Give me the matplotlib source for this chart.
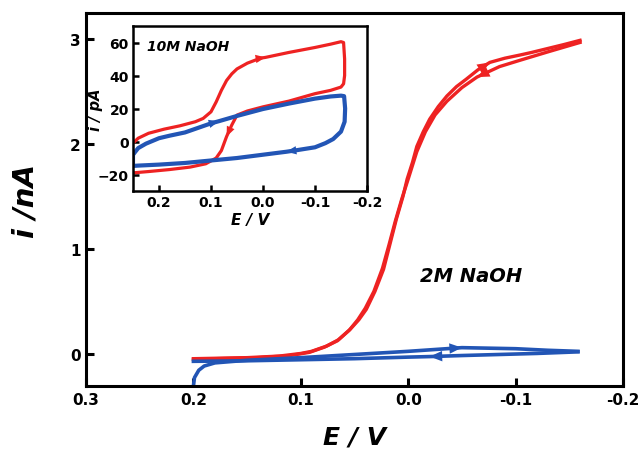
import matplotlib
matplotlib.use('Agg')
import matplotlib.pyplot as plt

plt.rcParams['font.family'] = ['DejaVu Sans']
plt.rcParams['font.weight'] = 'bold'

RED = '#ee2222'
BLUE = '#2255b5'

# main plot, 2M NaOH (E in V, i in nA)
red_fwd_E = [0.2, 0.15, 0.12, 0.1, 0.09, 0.076, 0.065, 0.054, 0.046, 0.039, 0.031, 0.023,
             0.017, 0.011, 0.005, 0.001, -0.004, -0.008, -0.014, -0.02, -0.028, -0.036,
             -0.045, -0.054, -0.065, -0.076, -0.09, -0.104, -0.115, -0.129, -0.145, -0.16]
red_fwd_i = [-0.04, -0.03, -0.015, 0.01, 0.03, 0.08, 0.14, 0.24, 0.33, 0.43, 0.6, 0.81,
             1.05, 1.29, 1.5, 1.67, 1.83, 1.98, 2.12, 2.24, 2.36, 2.46,
             2.55, 2.62, 2.71, 2.78, 2.82, 2.85, 2.875, 2.91, 2.95, 2.99]
red_bwd_E = [-0.16, -0.13, -0.104, -0.085, -0.064, -0.05, -0.036, -0.025, -0.016, -0.008,
             0.0, 0.006, 0.012, 0.018, 0.024, 0.032, 0.04, 0.047, 0.055, 0.066, 0.078,
             0.092, 0.11, 0.14, 0.2]
red_bwd_i = [2.97, 2.88, 2.8, 2.74, 2.64, 2.54, 2.41, 2.28, 2.12, 1.93,
             1.67, 1.48, 1.27, 1.04, 0.82, 0.6, 0.44, 0.33, 0.23, 0.13, 0.07,
             0.02, -0.01, -0.03, -0.045]

blue_fwd_E = [0.2, 0.199, 0.195, 0.19, 0.18, 0.15, 0.1, 0.05, 0.0, -0.05, -0.1, -0.13, -0.158]
blue_fwd_i = [-0.3, -0.22, -0.15, -0.11, -0.08, -0.055, -0.03, 0.0, 0.03, 0.065, 0.055, 0.04, 0.03]
blue_bwd_E = [-0.158, -0.12, -0.05, -0.02, 0.0, 0.05, 0.1, 0.15, 0.2]
blue_bwd_i = [0.025, 0.01, -0.01, -0.02, -0.025, -0.04, -0.05, -0.06, -0.065]

# inset, 10M NaOH (E in V, i in pA)
red_in_E = [0.26, 0.25, 0.24, 0.22, 0.19, 0.16, 0.13, 0.115, 0.1, 0.09, 0.08, 0.07, 0.06, 0.05,
            0.03, 0.005, -0.005, -0.05, -0.1, -0.13, -0.15, -0.155, -0.157, -0.157, -0.155,
            -0.15, -0.13, -0.1, -0.05, 0.0, 0.03, 0.05, 0.06, 0.07, 0.08, 0.09, 0.11, 0.14,
            0.18, 0.22, 0.25, 0.26]
red_in_i = [-4, -1, 2, 5, 7.5, 9.5, 12, 14, 18, 24, 31, 37, 41, 44,
            47.5, 50.5, 51, 54, 57, 59, 60.5, 60, 50, 40, 35,
            33, 31, 29, 24.5, 21, 18.5, 16, 10, 3, -5.5, -10, -13.5, -15.5,
            -17, -18.2, -19, -19.3]

blue_in_E = [0.25, 0.24, 0.225, 0.2, 0.18, 0.15, 0.1, 0.085, 0.05, 0.0, -0.05, -0.1, -0.13,
             -0.15, -0.156, -0.158, -0.157, -0.15, -0.135, -0.12, -0.1, -0.06, -0.045, 0.0,
             0.05, 0.1, 0.15, 0.2, 0.24, 0.25, 0.25]
blue_in_i = [-8, -4, -1.3, 2, 3.5, 5.5, 11, 12.3, 15.5, 19.7, 23, 26, 27.3,
             27.8, 27.5, 20, 12, 6, 1.5, -1, -3.5, -5.5, -6.2, -8,
             -10, -11.5, -13, -14, -14.6, -14.8, -8]


def head(ax, E, i, k, color, size):
    # arrow head on the segment k -> k+1 of a curve
    ax.annotate('', xy=(E[k + 1], i[k + 1]), xytext=(E[k], i[k]),
                arrowprops=dict(arrowstyle='-|>,head_length=0.6,head_width=0.25',
                                color=color, lw=0, mutation_scale=size,
                                shrinkA=0, shrinkB=0))


def style(ax, lw, length, size, pad=4):
    for s in ax.spines.values():
        s.set_linewidth(lw)
    ax.tick_params(direction='in', length=length, width=lw, labelsize=size,
                   top=False, right=False, pad=pad)
    for t in ax.get_xticklabels() + ax.get_yticklabels():
        t.set_fontweight('bold')


fig = plt.figure(figsize=(6.39, 4.52), dpi=100)
ax = fig.add_axes([0.1346, 0.1438, 0.8404, 0.8252])

ax.plot(red_fwd_E, red_fwd_i, color=RED, lw=2.4)
ax.plot(red_bwd_E, red_bwd_i, color=RED, lw=2.4)
ax.plot(blue_fwd_E, blue_fwd_i, color=BLUE, lw=2.6)
ax.plot(blue_bwd_E, blue_bwd_i, color=BLUE, lw=2.6)
head(ax, red_fwd_E, red_fwd_i, 24, RED, 15)
head(ax, red_bwd_E, red_bwd_i, 3, RED, 15)
head(ax, blue_fwd_E, blue_fwd_i, 8, BLUE, 15)
head(ax, blue_bwd_E, blue_bwd_i, 2, BLUE, 15)

ax.set_xlim(0.3, -0.2)
ax.set_ylim(-0.3, 3.25)
ax.set_xticks([0.3, 0.2, 0.1, 0.0, -0.1, -0.2])
ax.set_xticklabels(['0.3', '0.2', '0.1', '0.0', '-0.1', '-0.2'])
ax.set_yticks([0, 1, 2, 3])
style(ax, 2.2, 6, 11)
ax.set_xlabel('E / V', fontsize=18, fontweight='bold', style='italic', labelpad=13)
ax.set_ylabel('i /nA', fontsize=21, fontweight='bold', style='italic', labelpad=22)
ax.text(0.622, 0.2815, '2M NaOH', transform=ax.transAxes, fontsize=14,
        fontweight='bold', style='italic')

ins = fig.add_axes([0.2081, 0.5752, 0.3662, 0.365])
ins.plot(red_in_E, red_in_i, color=RED, lw=2.3)
ins.plot(blue_in_E, blue_in_i, color=BLUE, lw=3.0)
head(ins, red_in_E, red_in_i, 15, RED, 12)
head(ins, red_in_E, red_in_i, 32, RED, 12)
head(ins, blue_in_E, blue_in_i, 6, BLUE, 12)
head(ins, blue_in_E, blue_in_i, 21, BLUE, 12)
ins.set_xlim(0.25, -0.2)
ins.set_ylim(-30, 70)
ins.set_xticks([0.2, 0.1, 0.0, -0.1, -0.2])
ins.set_xticklabels(['0.2', '0.1', '0.0', '-0.1', '-0.2'])
ins.set_yticks([-20, 0, 20, 40, 60])
style(ins, 1.8, 4, 10, pad=3)
ins.set_xlabel('E / V', fontsize=11, fontweight='bold', style='italic', labelpad=2)
ins.set_ylabel('i / pA', fontsize=10.5, fontweight='bold', style='italic', labelpad=-4)
ins.text(0.06, 0.855, '10M NaOH', transform=ins.transAxes, fontsize=10,
         fontweight='bold', style='italic')

fig.savefig('out.png', dpi=100)
